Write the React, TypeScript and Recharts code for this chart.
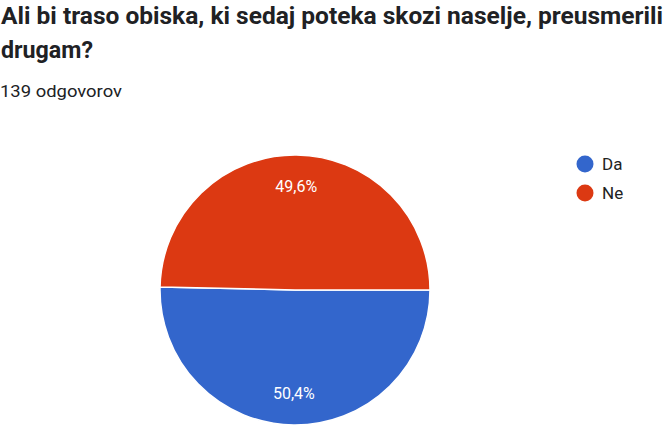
import React from "react";
import { PieChart, Pie, Cell, Legend } from "recharts";

const categories = ["Da", "Ne"];
const counts = [70, 69];
const colors = ["#3366cc", "#dc3912"];
const titleLines = [
  "Ali bi traso obiska, ki sedaj poteka skozi naselje, preusmerili",
  "drugam?",
];
const subtitle = "139 odgovorov";

const data = categories.map((name, i) => ({ name, value: counts[i] }));

const RAD = Math.PI / 180;

const renderLabel = (props: any) => {
  const { cx, cy, midAngle, outerRadius, percent } = props;
  const r = outerRadius * 0.77;
  const x = cx + r * Math.cos(-midAngle * RAD);
  const y = cy + r * Math.sin(-midAngle * RAD);
  const txt = (percent * 100).toFixed(1).replace(".", ",") + "%";
  return (
    <text
      x={x}
      y={y}
      fill="#ffffff"
      textAnchor="middle"
      dominantBaseline="central"
      fontFamily="Roboto, Arial, sans-serif"
      fontSize={16}
    >
      {txt}
    </text>
  );
};

const renderLegend = (props: any) => {
  const { payload } = props;
  return (
    <svg width={90} height={60}>
      {payload.map((p: any, i: number) => (
        <g key={i}>
          <circle cx={15} cy={14 + i * 29} r={8.5} fill={p.color} />
          <text
            x={32}
            y={20 + i * 29}
            fontFamily="Roboto, Arial, sans-serif"
            fontSize={17}
            fill="#222222"
          >
            {p.value}
          </text>
        </g>
      ))}
    </svg>
  );
};

export default function App() {
  return (
    <div
      style={{
        position: "absolute",
        left: 0,
        top: 0,
        width: 671,
        height: 431,
        background: "#ffffff",
        overflow: "hidden",
      }}
    >
      <svg
        width={671}
        height={110}
        style={{ position: "absolute", left: 0, top: 0 }}
      >
        <text
          x={1}
          y={24}
          fontFamily="Roboto, Arial, sans-serif"
          fontWeight={700}
          fontSize={23}
          fill="#202124"
          textLength={662}
          lengthAdjust="spacingAndGlyphs"
        >
          {titleLines[0]}
        </text>
        <text
          x={1}
          y={58}
          fontFamily="Roboto, Arial, sans-serif"
          fontWeight={700}
          fontSize={23}
          fill="#202124"
          textLength={92}
          lengthAdjust="spacingAndGlyphs"
        >
          {titleLines[1]}
        </text>
        <text
          x={0}
          y={97}
          fontFamily="Roboto, Arial, sans-serif"
          fontSize={16.5}
          fill="#202124"
          textLength={122}
          lengthAdjust="spacingAndGlyphs"
        >
          {subtitle}
        </text>
      </svg>
      <div style={{ position: "absolute", left: 0, top: 0 }}>
        <PieChart
          width={671}
          height={431}
          margin={{ top: 0, right: 0, bottom: 0, left: 0 }}
        >
          <Pie
            data={data}
            dataKey="value"
            nameKey="name"
            cx={295}
            cy={290}
            outerRadius={135}
            startAngle={0}
            endAngle={-360}
            stroke="#ffffff"
            strokeWidth={1.5}
            label={renderLabel}
            labelLine={false}
            isAnimationActive={false}
          >
            {data.map((d, i) => (
              <Cell key={d.name} fill={colors[i]} />
            ))}
          </Pie>
          <Legend
            content={renderLegend}
            wrapperStyle={{ position: "absolute", left: 570, top: 150, width: 90 }}
          />
        </PieChart>
      </div>
    </div>
  );
}
